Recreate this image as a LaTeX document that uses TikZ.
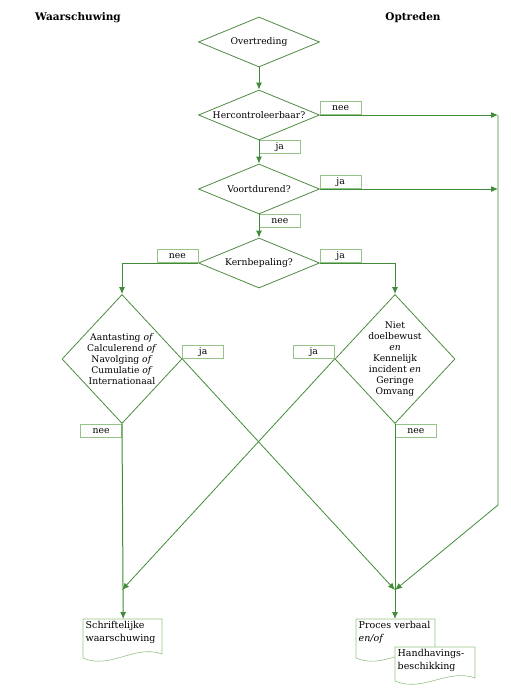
\documentclass[tikz,border=0pt]{standalone}
\usepackage{fontspec}
\setmainfont{DejaVu Serif}
\usetikzlibrary{shapes.geometric, arrows.meta, backgrounds}

\definecolor{lijn}{RGB}{64,140,56}
\definecolor{rand}{RGB}{78,138,66}
\definecolor{licht}{RGB}{150,195,135}

\begin{document}
\begin{tikzpicture}[
  x=1pt, y=-1pt,
  every node/.style={font=\fontsize{9.2}{11}\selectfont},
  keuze/.style={shape=diamond, draw=rand, line width=0.8pt, minimum width=121pt, minimum height=50pt, inner sep=0pt},
  groot/.style={keuze, minimum width=120pt, minimum height=129pt},
  antw/.style={draw=licht, line width=0.6pt, minimum width=41pt, minimum height=13pt, inner sep=0pt, font=\fontsize{9.3}{10}\selectfont},
  doc/.style={anchor=north west, text width=75pt, inner sep=2.5pt, align=left, font=\fontsize{9.5}{12.5}\selectfont},
  docrand/.style={draw=licht, line width=0.6pt, fill=white},
  kop/.style={font=\bfseries\fontsize{10.5}{12}\selectfont},
  arr/.style={-{Latex[length=7pt, width=6pt]}, draw=lijn, line width=1pt},
  dun/.style={draw=lijn, line width=0.8pt}
]
  \useasboundingbox (0,0) rectangle (511,697);

  \node[kop] (tw) at (78,18)  {Waarschuwing};
  \node[kop] (to) at (413,18) {Optreden};

  \node[keuze, label=center:Overtreding]       (ov) at (259,42)  {};
  \node[keuze, label=center:Hercontroleerbaar?] (hc) at (259,115) {};
  \node[keuze, label=center:Voortdurend?]      (vd) at (259,189) {};
  \node[keuze, label=center:Kernbepaling?]     (kb) at (259,263) {};
  \node[groot, label={[align=center]center:Aantasting \textit{of}\\Calculerend \textit{of}\\Navolging \textit{of}\\Cumulatie \textit{of}\\Internationaal}] (ld) at (122,359) {};
  \node[groot, label={[align=center]center:Niet\\doelbewust\\\textit{en}\\Kennelijk\\incident \textit{en}\\Geringe\\Omvang}] (rd) at (395,359) {};

  \node[doc] (sw) at (83,619)  {Schriftelijke\\waarschuwing};
  \node[doc] (pv) at (356,619) {Proces verbaal\\\textit{en/of}};
  \node[doc] (hv) at (395,647) {Handhavings-\\beschikking};

  \begin{scope}[on background layer]
    \draw[docrand] (sw.north west) -- ++(79,0) -- ++(0,35) .. controls +(-27,-10) and +(27,12) .. ++(-79,4) -- cycle;
    \draw[docrand] (pv.north west) -- ++(79,0) -- ++(0,35) .. controls +(-27,-10) and +(27,12) .. ++(-79,4) -- cycle;
    \draw[docrand] (hv.north west) -- ++(80,0) -- ++(0,31) .. controls +(-27,-10) and +(27,12) .. ++(-80,3) -- cycle;
  \end{scope}

  \node[antw, anchor=south west] (n1) at (hc.east)  {nee};
  \node[antw, anchor=north west] (j1) at (hc.south) {ja};
  \node[antw, anchor=south west] (j2) at (vd.east)  {ja};
  \node[antw, anchor=north west] (n2) at (vd.south) {nee};
  \node[antw, anchor=south west] (j3) at (kb.east)  {ja};
  \node[antw, anchor=south east] (n3) at (kb.west)  {nee};
  \node[antw, anchor=south west] (j4) at (ld.east)  {ja};
  \node[antw, anchor=north east] (n4) at (ld.south) {nee};
  \node[antw, anchor=south east] (j5) at (rd.west)  {ja};
  \node[antw, anchor=north west] (n5) at (rd.south) {nee};

  \coordinate (r1) at (498,115);
  \coordinate (r2) at (498,189);
  \coordinate (knik) at (498,505);
  \coordinate (samen) at (395,590);
  \coordinate (links) at (122,590);

  \draw[arr] (ov) -- (hc);
  \draw[arr] (hc.east) -- (r1);
  \draw[arr] (hc.south) -- (vd.north);
  \draw[arr] (vd.east) -- (r2);
  \draw[arr] (vd.south) -- (kb.north);
  \draw[arr] (kb.east) -| (rd.north);
  \draw[arr] (kb.west) -| (ld.north);
  \draw[arr] (ld.south) -- (sw.north);
  \draw[arr] (rd.south) -- (pv.north -| rd.south);
  \draw[arr, dun] (ld.east) -- (samen);
  \draw[arr, dun] (rd.west) -- (links);
  \draw[arr, dun] (r1) -- (knik) -- (samen);
\end{tikzpicture}
\end{document}
